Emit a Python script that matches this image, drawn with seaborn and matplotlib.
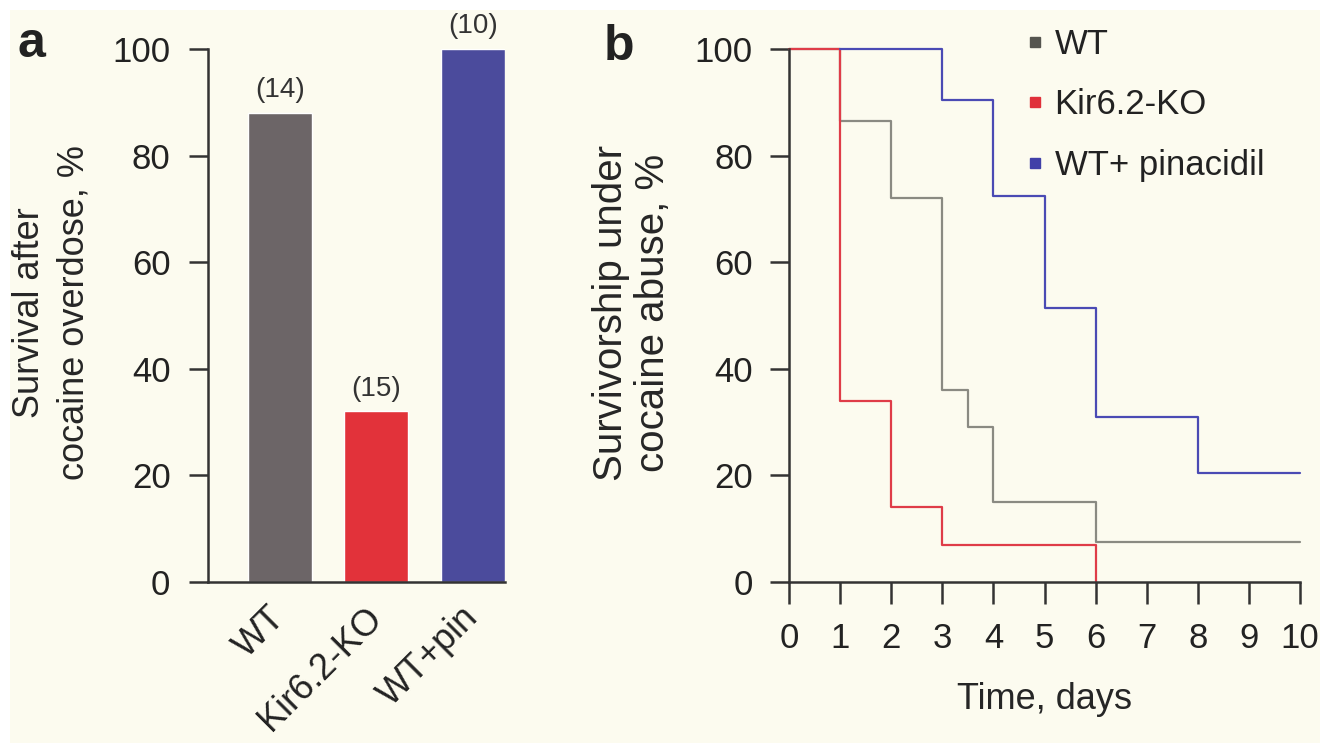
import pandas as pd
import matplotlib
matplotlib.use('Agg')
import matplotlib.pyplot as plt
import seaborn as sns
from matplotlib.lines import Line2D
from matplotlib.patches import Rectangle

# Panel a: survival after overdose
groups = ['WT', 'Kir6.2-KO', 'WT+pin']
survival_pct = [88, 32, 100]
n_mice = ['(14)', '(15)', '(10)']
bar_colors = ['#6c6567', '#e2323a', '#4b4b9c']

# Panel b: survivorship curves (day of drop, % surviving)
wt_days = [0, 1, 2, 3, 3.5, 4, 6, 10]
wt_surv = [100, 86.5, 72, 36, 29, 15, 7.5, 7.5]
ko_days = [0, 1, 2, 3, 6]
ko_surv = [100, 34, 14, 7, 0]
pin_days = [1, 3, 4, 5, 6, 8, 10]
pin_surv = [100, 90.5, 72.5, 51.5, 31, 20.5, 20.5]
curve_names = ['WT', 'Kir6.2-KO', 'WT+ pinacidil']
line_colors = ['#8a8a82', '#df3c48', '#4a4ab4']
legend_colors = ['#55554f', '#e0303a', '#4040a8']

pct_ticks = [0, 20, 40, 60, 80, 100]
day_ticks = list(range(0, 11))

cream = '#fcfbef'
ink = '#333333'

sns.set_theme(style='ticks')
plt.rcParams['font.family'] = ['Liberation Sans', 'DejaVu Sans']
plt.rcParams['axes.edgecolor'] = ink
plt.rcParams['xtick.color'] = ink
plt.rcParams['ytick.color'] = ink
plt.rcParams['text.color'] = '#222222'
plt.rcParams['xtick.labelcolor'] = '#222222'
plt.rcParams['ytick.labelcolor'] = '#222222'

fig = plt.figure(figsize=(13.34, 7.43), dpi=100, facecolor='white')
fig.patches.append(Rectangle((0.0075, 0), 0.982, 0.9865, transform=fig.transFigure,
                             facecolor=cream, edgecolor='none', zorder=-10))

ax1 = fig.add_axes([208 / 1334, 1 - 582 / 743, 297 / 1334, 533 / 743])
ax2 = fig.add_axes([789 / 1334, 1 - 582 / 743, 511 / 1334, 533 / 743])
for ax in (ax1, ax2):
    ax.set_facecolor('none')

# ---- panel a
bars = pd.DataFrame({'group': groups, 'pct': survival_pct})
sns.barplot(data=bars, x='group', y='pct', hue='group', order=groups, hue_order=groups,
            palette=dict(zip(groups, bar_colors)), width=0.665, saturation=1,
            legend=False, ax=ax1)
for patch, lab in zip(ax1.patches, n_mice):
    ax1.annotate(lab, (patch.get_x() + patch.get_width() / 2, patch.get_height()),
                 xytext=(0, 7), textcoords='offset points', ha='center', va='bottom',
                 fontsize=20, color='#333333', annotation_clip=False)
ax1.set_xlim(-0.748, 2.335)
ax1.set_ylim(0, 100)
ax1.set_yticks(pct_ticks)
ax1.set_xlabel('')
ax1.set_ylabel('Survival after\ncocaine overdose, %', fontsize=26, va='center', linespacing=1.35)
ax1.yaxis.set_label_coords(-0.525, 0.506)
ax1.tick_params(axis='y', length=14, width=1.8, pad=13, labelsize=25)
ax1.tick_params(axis='x', length=0, pad=22, labelsize=26)
plt.setp(ax1.get_xticklabels(), rotation=45, ha='right', va='center', rotation_mode='anchor')

# ---- panel b
curves = pd.concat([
    pd.DataFrame({'day': wt_days, 'surv': wt_surv, 'group': curve_names[0]}),
    pd.DataFrame({'day': ko_days, 'surv': ko_surv, 'group': curve_names[1]}),
    pd.DataFrame({'day': pin_days, 'surv': pin_surv, 'group': curve_names[2]}),
])
sns.lineplot(data=curves, x='day', y='surv', hue='group', hue_order=curve_names,
             palette=dict(zip(curve_names, line_colors)), estimator=None,
             drawstyle='steps-post', linewidth=1.6, legend=False, ax=ax2)
for line in ax2.lines:
    line.set_clip_on(False)
ax2.set_xlim(0, 10)
ax2.set_ylim(0, 100)
ax2.set_xticks(day_ticks)
ax2.set_yticks(pct_ticks)
ax2.set_xlabel('Time, days', fontsize=26, va='center')
ax2.xaxis.set_label_coords(0.5, -0.22)
ax2.set_ylabel('Survivorship under\ncocaine abuse, %', fontsize=29, va='center', linespacing=1.15)
ax2.yaxis.set_label_coords(-0.307, 0.505)
ax2.tick_params(axis='y', length=14, width=1.8, pad=12, labelsize=25)
ax2.tick_params(axis='x', length=16, width=1.8, pad=13, labelsize=25)

handles = [Line2D([], [], marker='s', linestyle='', markersize=7, color=c) for c in legend_colors]
ax2.legend(handles, curve_names, loc='upper left', bbox_to_anchor=(0.462, 1.04),
           frameon=False, fontsize=25, handlelength=0.6, handletextpad=0.25,
           labelspacing=0.8, borderpad=0, borderaxespad=0)

for ax in (ax1, ax2):
    sns.despine(ax=ax)
    for side in ('left', 'bottom'):
        ax.spines[side].set_linewidth(1.8)

fig.text(31 / 1334, 1 - 57 / 743, 'a', fontsize=36, fontweight='bold', ha='center', va='baseline')
fig.text(619 / 1334, 1 - 60 / 743, 'b', fontsize=36, fontweight='bold', ha='center', va='baseline')

fig.savefig('out.png', dpi=100, facecolor=fig.get_facecolor())
